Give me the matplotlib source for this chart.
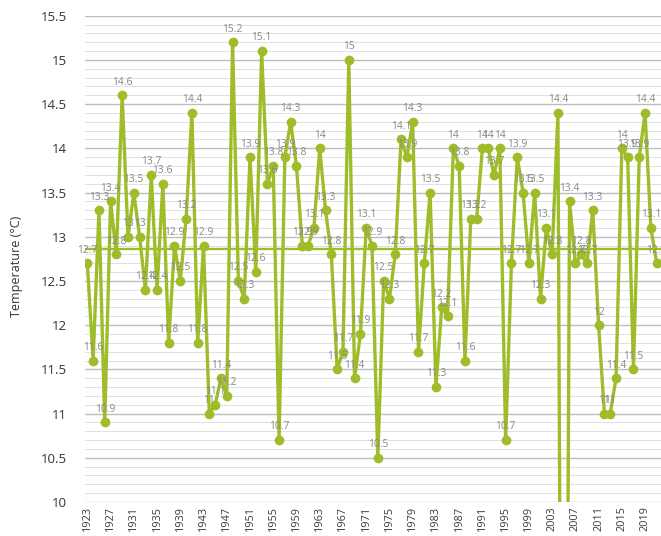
import matplotlib
matplotlib.use('Agg')
import matplotlib.pyplot as plt
from matplotlib.ticker import MultipleLocator, FixedLocator

# ---- data ----
years = list(range(1923, 2022))
temps = [12.7, 11.6, 13.3, 10.9, 13.4, 12.8, 14.6, 13.0, 13.5, 13.0,
         12.4, 13.7, 12.4, 13.6, 11.8, 12.9, 12.5, 13.2, 14.4, 11.8,
         12.9, 11.0, 11.1, 11.4, 11.2, 15.2, 12.5, 12.3, 13.9, 12.6,
         15.1, 13.6, 13.8, 10.7, 13.9, 14.3, 13.8, 12.9, 12.9, 13.1,
         14.0, 13.3, 12.8, 11.5, 11.7, 15.0, 11.4, 11.9, 13.1, 12.9,
         10.5, 12.5, 12.3, 12.8, 14.1, 13.9, 14.3, 11.7, 12.7, 13.5,
         11.3, 12.2, 12.1, 14.0, 13.8, 11.6, 13.2, 13.2, 14.0, 14.0,
         13.7, 14.0, 10.7, 12.7, 13.9, 13.5, 12.7, 13.5, 12.3, 13.1,
         12.8, 14.4, 0.0, 13.4, 12.7, 12.8, 12.7, 13.3, 12.0, 11.0,
         11.0, 11.4, 14.0, 13.9, 11.5, 13.9, 14.4, 13.1, 12.7]
mean_temp = 12.86
tick_years = list(range(1923, 2020, 4))
y_ticks = [10, 10.5, 11, 11.5, 12, 12.5, 13, 13.5, 14, 14.5, 15, 15.5]
y_tick_labels = ["10", "10.5", "11", "11.5", "12", "12.5", "13", "13.5",
                 "14", "14.5", "15", "15.5"]
y_label = "Temperature (°C)"

# ---- style ----
green = '#9FBD2B'
plt.rcParams['font.family'] = ['Open Sans', 'DejaVu Sans']

fig = plt.figure(figsize=(6.61, 5.36), dpi=100)
ax = fig.add_axes([85 / 661, 1 - 502 / 536, 1 - 85 / 661, (502 - 15.7) / 536])
ax.set_xlim(1922.6, 2021.74)
ax.set_ylim(10, 15.5)

ax.yaxis.set_major_locator(FixedLocator(y_ticks))
ax.set_yticklabels(y_tick_labels)
ax.yaxis.set_minor_locator(MultipleLocator(0.1))
ax.xaxis.set_major_locator(FixedLocator(tick_years))
ax.set_xticklabels([str(y) for y in tick_years], rotation=90)

ax.grid(which='major', axis='y', color='#bdbdbd', lw=1.0, zorder=0)
ax.grid(which='minor', axis='y', color='#e0e0e0', lw=0.7, zorder=0)
ax.set_axisbelow(True)

for s in ax.spines.values():
    s.set_visible(False)
ax.tick_params(axis='both', which='both', length=0)
ax.tick_params(axis='y', pad=13, labelsize=9.5, labelcolor='#333333')
ax.tick_params(axis='x', pad=3, labelsize=7.8, labelcolor='#3a3a3a')

ax.axhline(mean_temp, color=green, lw=1.7, zorder=2)
ax.plot(years, temps, color=green, lw=2.4, marker='o', ms=6,
        mfc=green, mec=green, zorder=3)

for x, v in zip(years, temps):
    if v >= 10:
        ax.annotate(f'{v:g}', (x, v), xytext=(0, 5.5), textcoords='offset points',
                    ha='center', va='bottom', fontsize=7.4, color='#888888',
                    zorder=4)

fig.text(17 / 661, 1 - 266 / 536, y_label, rotation=90, ha='center', va='center',
         fontsize=9, color='#333333')

fig.savefig('out.png', dpi=100)
